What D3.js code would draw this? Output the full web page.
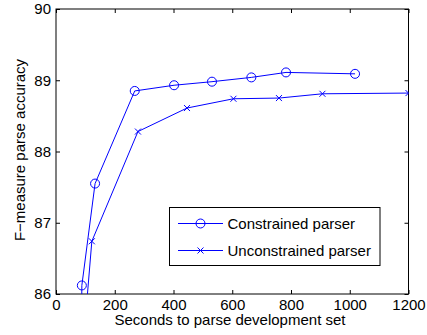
<!DOCTYPE html>
<html>
<head>
<meta charset="utf-8">
<script src="https://cdn.jsdelivr.net/npm/d3@7"></script>
<style>
  body { margin: 0; background: #fff; }
  text { font-family: "Liberation Sans", Arial, sans-serif; }
</style>
</head>
<body>
<svg id="chart" width="427" height="335"></svg>
<script>
// data
const constrainedX = [87, 88, 133, 268, 402, 531, 665, 783, 1018];
const constrainedY = [85.6, 86.12, 87.55, 88.85, 88.93, 88.98, 89.04, 89.11, 89.09];
const unconstrainedX = [101, 122, 279, 446, 604, 759, 907, 1200];
const unconstrainedY = [85.7, 86.74, 88.28, 88.61, 88.74, 88.75, 88.81, 88.82];
const xTicks = [0, 200, 400, 600, 800, 1000, 1200];
const yTicks = [86, 87, 88, 89, 90];
const seriesNames = ["Constrained parser", "Unconstrained parser"];

const svg = d3.select("#chart");
const mLeft = 56, mTop = 9, mRight = 408.5, mBottom = 294;
const blue = "#0000ff";
const fs = 15;

const x = d3.scaleLinear().domain([0, 1200]).range([mLeft, mRight]);
const y = d3.scaleLinear().domain([86, 90]).range([mBottom, mTop]);

svg.append("defs").append("clipPath").attr("id", "plotclip")
  .append("rect")
  .attr("x", mLeft).attr("y", mTop)
  .attr("width", mRight - mLeft).attr("height", mBottom - mTop);

// axes with inward ticks, MATLAB box style
const tickLen = 4;
svg.append("g").attr("transform", `translate(0,${mBottom})`)
  .call(d3.axisBottom(x).tickValues(xTicks).tickSize(-tickLen).tickPadding(5).tickFormat(d3.format("d")))
  .call((g) => g.select(".domain").remove());
svg.append("g").attr("transform", `translate(0,${mTop})`)
  .call(d3.axisTop(x).tickValues(xTicks).tickSize(-tickLen).tickFormat(""))
  .call((g) => g.select(".domain").remove());
svg.append("g").attr("transform", `translate(${mLeft},0)`)
  .call(d3.axisLeft(y).tickValues(yTicks).tickSize(-tickLen).tickPadding(5).tickFormat(d3.format("d")))
  .call((g) => g.select(".domain").remove());
svg.append("g").attr("transform", `translate(${mRight},0)`)
  .call(d3.axisRight(y).tickValues(yTicks).tickSize(-tickLen).tickFormat(""))
  .call((g) => g.select(".domain").remove());

svg.selectAll(".tick text")
  .attr("font-size", fs)
  .attr("font-family", "Liberation Sans, Arial, sans-serif")
  .attr("fill", "#000");
svg.selectAll(".tick line").attr("stroke", "#000");

svg.append("rect")
  .attr("x", mLeft).attr("y", mTop)
  .attr("width", mRight - mLeft).attr("height", mBottom - mTop)
  .attr("fill", "none").attr("stroke", "#000").attr("stroke-width", 1);

const line = d3.line().x((d) => x(d[0])).y((d) => y(d[1]));
const cData = d3.zip(constrainedX, constrainedY);
const uData = d3.zip(unconstrainedX, unconstrainedY);

const plot = svg.append("g").attr("clip-path", "url(#plotclip)");

plot.append("path").attr("d", line(cData))
  .attr("fill", "none").attr("stroke", blue).attr("stroke-width", 1);
plot.append("path").attr("d", line(uData))
  .attr("fill", "none").attr("stroke", blue).attr("stroke-width", 1);

const rCircle = 4.5;
plot.selectAll("circle.c").data(cData).join("circle")
  .attr("cx", (d) => x(d[0])).attr("cy", (d) => y(d[1]))
  .attr("r", rCircle).attr("fill", "none").attr("stroke", blue);

const xs = 3;
function cross(px, py) {
  return `M${px - xs},${py - xs}L${px + xs},${py + xs}M${px - xs},${py + xs}L${px + xs},${py - xs}`;
}
plot.selectAll("path.x").data(uData).join("path")
  .attr("d", (d) => cross(x(d[0]), y(d[1])))
  .attr("stroke", blue).attr("fill", "none");

// legend
const lg = svg.append("g");
lg.append("rect")
  .attr("x", 169.5).attr("y", 207.5).attr("width", 210.5).attr("height", 58)
  .attr("fill", "#fff").attr("stroke", "#000");
seriesNames.forEach((name, i) => {
  const ly = 223.5 + i * 27;
  lg.append("line").attr("x1", 178).attr("x2", 223).attr("y1", ly).attr("y2", ly)
    .attr("stroke", blue);
  if (i === 0) {
    lg.append("circle").attr("cx", 200.5).attr("cy", ly).attr("r", rCircle)
      .attr("fill", "none").attr("stroke", blue);
  } else {
    lg.append("path").attr("d", cross(200.5, ly)).attr("stroke", blue);
  }
  lg.append("text").attr("x", 227.5).attr("y", ly + 5.5)
    .attr("font-size", fs).text(name);
});

// axis labels
svg.append("text")
  .attr("x", 230).attr("y", 325)
  .attr("text-anchor", "middle").attr("font-size", fs)
  .text("Seconds to parse development set");
svg.append("text")
  .attr("transform", `translate(25,150) rotate(-90)`)
  .attr("text-anchor", "middle").attr("font-size", fs)
  .text("F\u2212measure parse accuracy");
</script>
</body>
</html>
